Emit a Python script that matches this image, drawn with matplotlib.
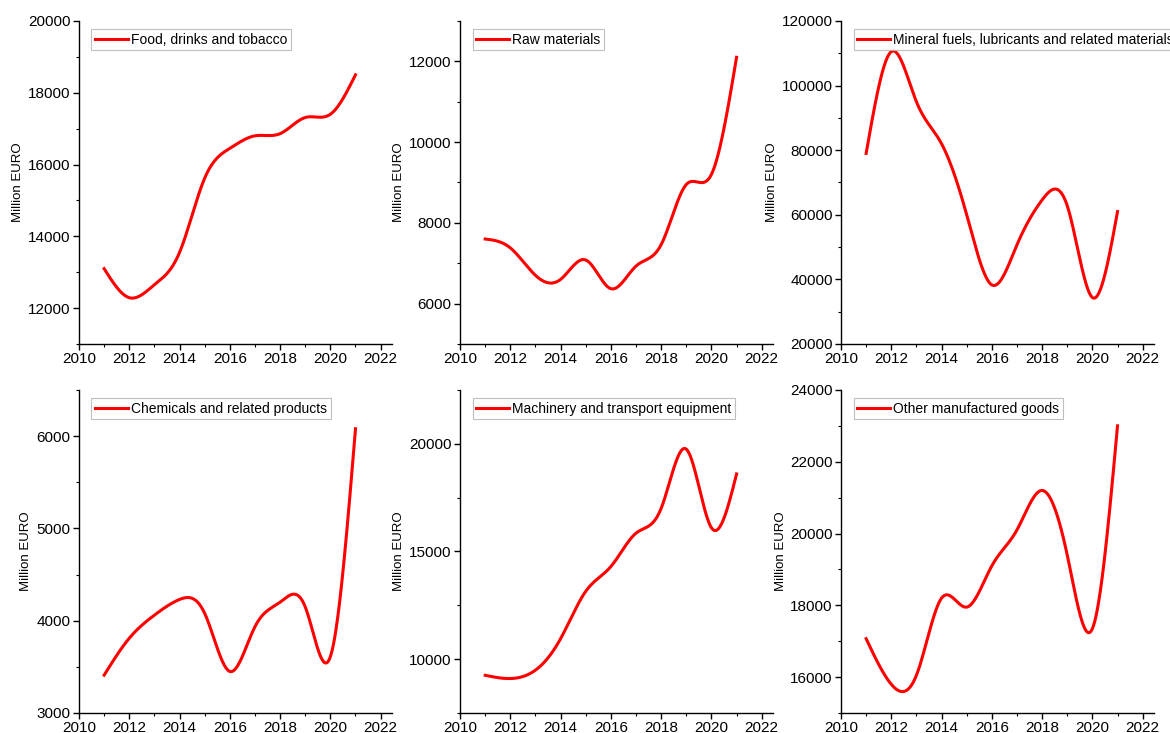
import numpy as np
import matplotlib.pyplot as plt
from matplotlib.ticker import MultipleLocator

plt.rcParams['font.family'] = ['Liberation Sans', 'DejaVu Sans']

# yearly values, million EURO
years = [2011, 2012, 2013, 2014, 2015, 2016, 2017, 2018, 2019, 2020, 2021]

food = [13100, 12290, 12650, 13550, 15620, 16450, 16800, 16860, 17310, 17400, 18500]
raw = [7600, 7380, 6700, 6600, 7080, 6370, 6930, 7460, 8950, 9200, 12100]
fuels = [79000, 110500, 95000, 82000, 60000, 38300, 50700, 64600, 62800, 34400, 61000]
chemicals = [3410, 3810, 4060, 4230, 4080, 3450, 3935, 4200, 4150, 3610, 6080]
machinery = [9250, 9100, 9490, 10950, 13150, 14300, 15850, 17000, 19750, 16100, 18600]
other = [17070, 15800, 16050, 18200, 17950, 19100, 20100, 21200, 19400, 17350, 23000]

labels = ['Food, drinks and tobacco', 'Raw materials',
          'Mineral fuels, lubricants and related materials',
          'Chemicals and related products', 'Machinery and transport equipment',
          'Other manufactured goods']
series = [food, raw, fuels, chemicals, machinery, other]
ylims = [(11000, 20000), (5000, 13000), (20000, 120000),
         (3000, 6500), (7500, 22500), (15000, 24000)]
ysteps = [2000, 2000, 20000, 1000, 5000, 2000]
label_x = [-0.176, -0.176, -0.2, -0.15, -0.176, -0.173]


def natural_spline(x, y, num=400):
    # natural cubic spline through the points, evaluated on a dense grid
    x = np.asarray(x, float)
    y = np.asarray(y, float)
    n = len(x)
    h = np.diff(x)
    A = np.zeros((n, n))
    b = np.zeros(n)
    A[0, 0] = 1
    A[-1, -1] = 1
    for i in range(1, n - 1):
        A[i, i - 1] = h[i - 1]
        A[i, i] = 2 * (h[i - 1] + h[i])
        A[i, i + 1] = h[i]
        b[i] = 6 * ((y[i + 1] - y[i]) / h[i] - (y[i] - y[i - 1]) / h[i - 1])
    M = np.linalg.solve(A, b)
    xs = np.linspace(x[0], x[-1], num)
    idx = np.clip(np.searchsorted(x, xs) - 1, 0, n - 2)
    x0, x1 = x[idx], x[idx + 1]
    hh = x1 - x0
    t0 = x1 - xs
    t1 = xs - x0
    ys = (M[idx] * t0 ** 3 / (6 * hh) + M[idx + 1] * t1 ** 3 / (6 * hh)
          + (y[idx] / hh - M[idx] * hh / 6) * t0
          + (y[idx + 1] / hh - M[idx + 1] * hh / 6) * t1)
    return xs, ys


fig = plt.figure(figsize=(11.7, 7.33), dpi=100)

lefts = [0.0675, 0.3932, 0.7188]
bottoms = [0.5307, 0.0273]
w, h = 0.2675, 0.4407

for k in range(6):
    r, c = divmod(k, 3)
    ax = fig.add_axes([lefts[c], bottoms[r], w, h])
    xs, ys = natural_spline(years, series[k])
    ax.plot(xs, ys, color='#ff0000', lw=2.2, label=labels[k])

    ax.set_xlim(2010, 2022.45)
    ax.set_ylim(*ylims[k])
    ax.xaxis.set_major_locator(MultipleLocator(2))
    ax.xaxis.set_minor_locator(MultipleLocator(1))
    ax.yaxis.set_major_locator(MultipleLocator(ysteps[k]))
    ax.yaxis.set_minor_locator(MultipleLocator(ysteps[k] / 2))
    ax.tick_params(which='major', direction='out', length=4, width=1,
                   labelsize=11, pad=2)
    ax.tick_params(which='minor', direction='out', length=2.5, width=0.8)

    for s in ['top', 'right']:
        ax.spines[s].set_visible(False)
    for s in ['left', 'bottom']:
        ax.spines[s].set_linewidth(1)

    ax.set_ylabel('Million EURO', fontsize=9.5)
    ax.yaxis.set_label_coords(label_x[k], 0.5)

    leg = ax.legend(loc='upper left', bbox_to_anchor=(0.04, 0.975), fontsize=10,
                    frameon=True, fancybox=False, handlelength=2.4,
                    handletextpad=0.2, borderpad=0.25, borderaxespad=0)
    leg.get_frame().set_edgecolor('#b0b0b0')
    leg.get_frame().set_linewidth(0.8)

fig.savefig('out.png', dpi=100)
